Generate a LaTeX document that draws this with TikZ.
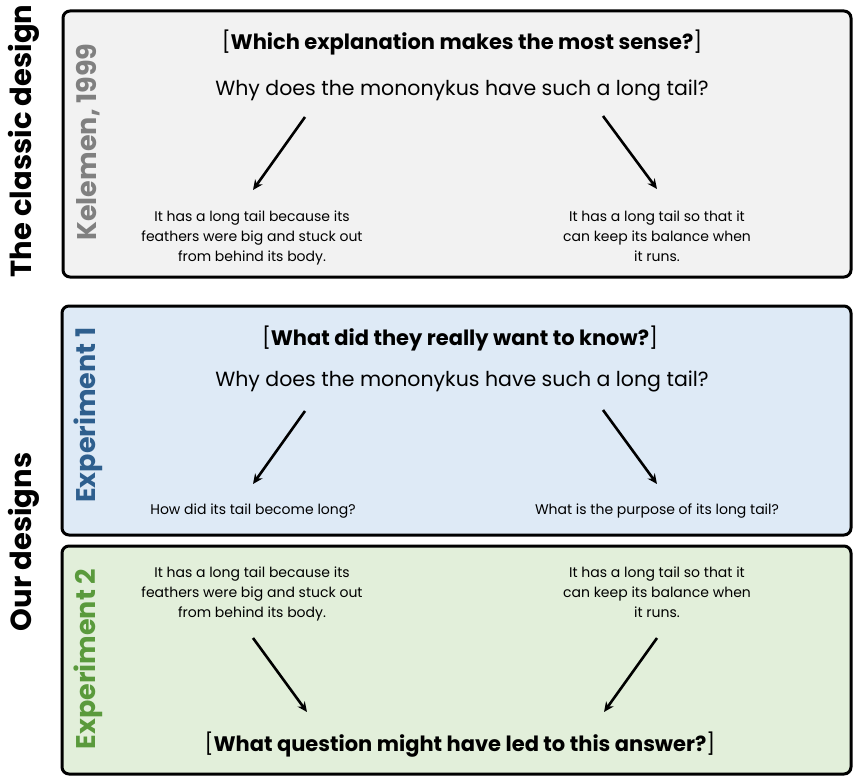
\documentclass[tikz,border=0pt]{standalone}
\usepackage{fontspec}
\setmainfont{Poppins}
\usetikzlibrary{arrows.meta}
\definecolor{grayfill}{HTML}{F2F2F2}
\definecolor{bluefill}{HTML}{DEEAF6}
\definecolor{greenfill}{HTML}{E2EFDA}
\definecolor{graytext}{HTML}{808080}
\definecolor{bluetext}{HTML}{2E5F8E}
\definecolor{greentext}{HTML}{5A9A3C}
\tikzset{
  panel/.style={draw=black, line width=3pt, rounded corners=7pt},
  sidelabel/.style={rotate=90, font=\fontsize{29}{33}\selectfont\bfseries, inner sep=0pt},
  tag/.style={rotate=90, font=\fontsize{27}{31}\selectfont\bfseries, inner sep=0pt},
  title/.style={font=\fontsize{21}{25}\selectfont, inner sep=0pt},
  question/.style={font=\fontsize{20.5}{25}\selectfont, inner sep=0pt},
  answer/.style={font=\fontsize{14}{20}\selectfont, align=center, inner sep=0pt, anchor=north},
  arr/.style={line width=2.6pt, -{Stealth[length=10pt,width=9pt]}}
}
\begin{document}
\begin{tikzpicture}[x=1pt,y=-1pt]
\useasboundingbox (0,0) rectangle (853,776);
% panels
\draw[panel, fill=grayfill] (63,11) rectangle (851,277);
\draw[panel, fill=bluefill] (62,306) rectangle (851,535);
\draw[panel, fill=greenfill] (62,546) rectangle (851,774);
% side labels
\node[sidelabel] (classic) at (24,141) {The classic design};
\node[sidelabel] (ours) at (24,542) {Our designs};
\node[tag, text=graytext] (kel) at (88,142) {Kelemen, 1999};
\node[tag, text=bluetext] (exp1) at (88,415) {Experiment 1};
\node[tag, text=greentext] (exp2) at (88,659) {Experiment 2};
% panel 1
\node[title] (t1) at (462,42) {[\textbf{Which explanation makes the most sense?}]};
\node[question] (q1) at (462,90) {Why does the mononykus have such a long tail?};
\node[answer] (a1l) at (252,211) {It has a long tail because its\\feathers were big and stuck out\\from behind its body.};
\node[answer] (a1r) at (657,211) {It has a long tail so that it\\can keep its balance when\\it runs.};
\coordinate (s1l) at (305,117); \coordinate (e1l) at (253,190);
\coordinate (s1r) at (603,116); \coordinate (e1r) at (657,189);
\draw[arr] (s1l) -- (e1l);
\draw[arr] (s1r) -- (e1r);
% panel 2
\node[title] (t2) at (460,338) {[\textbf{What did they really want to know?}]};
\node[question] (q2) at (462,381) {Why does the mononykus have such a long tail?};
\node[answer] (a2l) at (253,504) {How did its tail become long?};
\node[answer] (a2r) at (657,504) {What is the purpose of its long tail?};
\coordinate (s2l) at (305,411); \coordinate (e2l) at (253,484);
\coordinate (s2r) at (603,410); \coordinate (e2r) at (657,484);
\draw[arr] (s2l) -- (e2l);
\draw[arr] (s2r) -- (e2r);
% panel 3
\node[answer] (a3l) at (252,567) {It has a long tail because its\\feathers were big and stuck out\\from behind its body.};
\node[answer] (a3r) at (657,567) {It has a long tail so that it\\can keep its balance when\\it runs.};
\node[title] (t3) at (460,745) {[\textbf{What question might have led to this answer?}]};
\coordinate (s3l) at (253,638); \coordinate (e3l) at (307,712);
\coordinate (s3r) at (657,638); \coordinate (e3r) at (604,712);
\draw[arr] (s3l) -- (e3l);
\draw[arr] (s3r) -- (e3r);
\end{tikzpicture}
\end{document}
